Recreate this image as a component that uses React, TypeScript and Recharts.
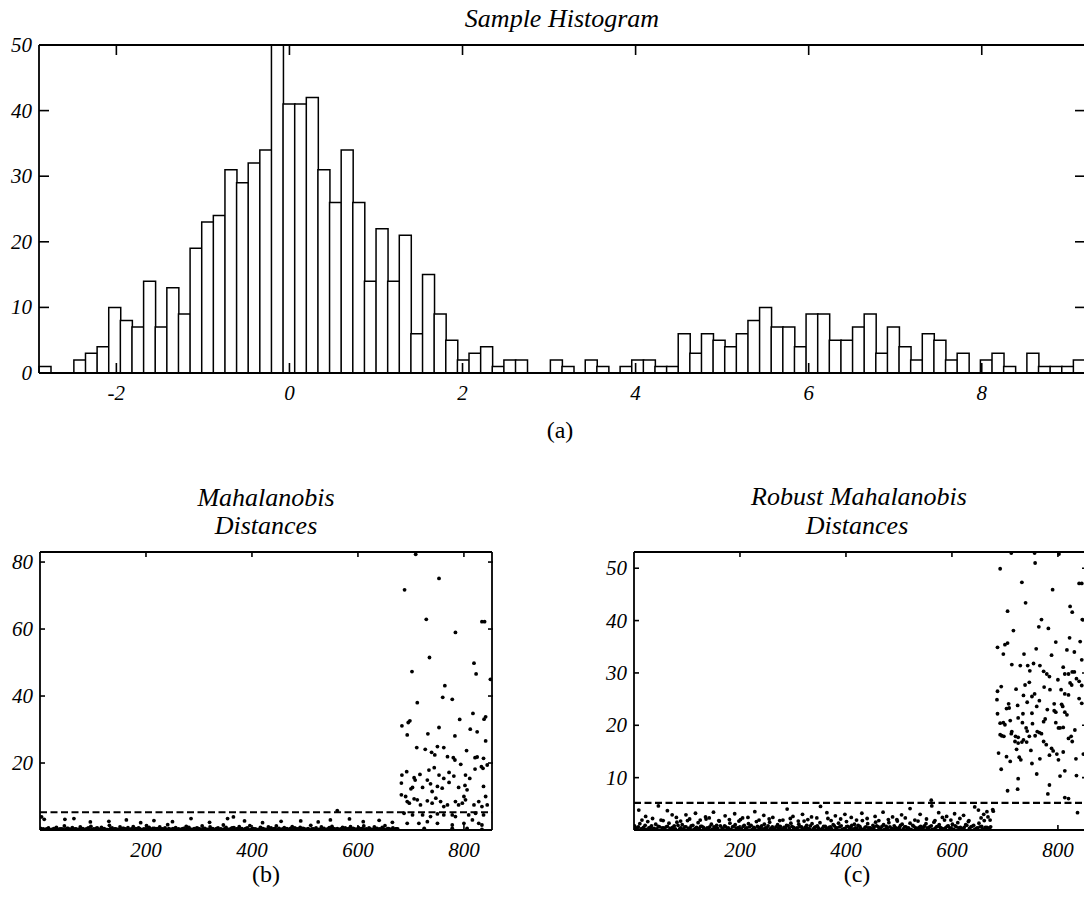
import React from 'react';
import { BarChart, Bar, XAxis, YAxis, ScatterChart, Scatter, ReferenceLine } from 'recharts';

// ---------- Histogram data (panel a) ----------
const histLeftEdge = -2.894;
const histBinWidth = 0.1343;
const histCounts = [
  1, 0, 0, 2, 3, 4, 10, 8, 7, 14,
  7, 13, 9, 19, 23, 24, 31, 29, 32, 34,
  51, 41, 41, 42, 31, 26, 34, 26, 14, 22,
  14, 21, 6, 15, 9, 5, 2, 3, 4, 1,
  2, 2, 0, 0, 2, 1, 0, 2, 1, 0,
  1, 2, 2, 1, 1, 6, 3, 6, 5, 4,
  6, 8, 10, 7, 7, 4, 9, 9, 5, 5,
  7, 9, 3, 7, 4, 2, 6, 5, 2, 3,
  0, 2, 3, 1, 0, 3, 1, 1, 1, 2,
];
const histXTicks = [-2, 0, 2, 4, 6, 8];
const histYTicks = [0, 10, 20, 30, 40, 50];
const histYMax = 50;

// ---------- Distance plots (panels b, c) ----------
const idxMax = 853;
const idxTicks = [200, 400, 600, 800];
const mahaYMax = 83;
const mahaYTicks = [20, 40, 60, 80];
const robustYMax = 53.1;
const robustYTicks = [10, 20, 30, 40, 50];
const mahaCutoff = 5.3;
const robustCutoff = 5.2;

// inlier band, sampled observations: A = 1, 6, 11, ...  B = 3, 8, 13, ...
const bandStartA = 1;
const bandStartB = 3;
const bandIndexStep = 5;
const mahaBandA = [
  0.5, 0.3, 0.2, 0.6, 0.1, 0.4, 0.8, 0.2, 0.3, 1.2, 0.5, 0.2, 0.7, 0.3, 0.1, 0.9, 0.4,
  0.2, 0.6, 1.1, 0.3, 0.5, 0.2, 0.8, 0.4, 0.1, 1.4, 0.6, 0.3, 0.2, 0.9, 0.5, 0.3, 0.7,
  0.2, 1.0, 0.4, 0.6, 0.1, 0.3, 1.3, 0.8, 0.2, 0.5, 0.4, 0.9, 0.3, 0.6, 1.6, 0.2, 0.4,
  0.7, 0.3, 0.1, 0.5, 1.1, 0.8, 0.2, 0.4, 0.6, 0.3, 1.2, 0.5, 0.2, 0.9, 0.4, 0.1,
  0.6, 0.3, 1.5, 0.8, 0.2, 0.5, 0.7, 0.3, 1.0, 0.4, 0.2, 0.6, 1.3, 0.5, 0.3, 0.1, 0.8,
  0.4, 0.2, 0.9, 0.6, 0.3, 1.2, 0.5, 0.1, 0.7, 0.4, 0.2, 1.0, 0.6, 0.3, 0.8, 0.5, 0.2,
  0.4, 1.4, 0.3, 0.6, 0.2, 0.9, 0.5, 0.1, 0.7, 1.1, 0.3, 0.4, 0.2, 0.8, 0.6, 0.3, 1.0,
  0.5, 0.2, 0.7, 0.4, 1.2, 0.3, 0.6, 0.1, 0.9, 0.5, 0.3, 0.8, 1.3, 0.4, 0.2, 0.6, 0.3,
];
const mahaBandB = [
  0.2, 0.1, 0.3, 0.1, 0.2, 0.4, 0.1, 0.3, 0.2, 0.1, 0.5, 0.2, 0.1, 0.3, 0.2, 0.4, 0.1,
  0.3, 0.2, 0.1, 0.2, 0.6, 0.1, 0.3, 0.2, 0.1, 0.4, 0.2, 0.3, 0.1, 0.2, 0.5, 0.1, 0.2,
  0.3, 0.1, 0.2, 0.4, 0.1, 0.2, 0.3, 0.1, 0.5, 0.2, 0.1, 0.3, 0.2, 0.1, 0.4, 0.2, 0.3,
  0.1, 0.2, 0.3, 0.1, 0.4, 0.2, 0.1, 0.2, 0.5, 0.1, 0.3, 0.2, 0.1, 0.3, 0.2, 0.4,
  0.1, 0.2, 0.3, 0.1, 0.2, 0.6, 0.1, 0.3, 0.2, 0.1, 0.4, 0.2, 0.1, 0.3, 0.2, 0.1, 0.5,
  0.2, 0.1, 0.3, 0.2, 0.4, 0.1, 0.2, 0.3, 0.1, 0.2, 0.5, 0.1, 0.3, 0.2, 0.1, 0.4, 0.2,
  0.1, 0.3, 0.2, 0.1, 0.2, 0.4, 0.1, 0.3, 0.2, 0.5, 0.1, 0.2, 0.3, 0.1, 0.2, 0.4, 0.1,
  0.3, 0.2, 0.1, 0.4, 0.2, 0.1, 0.3, 0.2, 0.5, 0.1, 0.2, 0.3, 0.1, 0.4, 0.2, 0.1, 0.3,
];
const mahaMidPoints: [number, number][] = [
  [3, 3.9], [8, 3.2], [47, 3.2], [64, 3.4], [95, 2.4], [130, 2.6], [163, 3.0], [190, 2.2],
  [215, 2.8], [250, 2.5], [285, 3.4], [320, 2.3], [354, 3.4], [365, 3.9], [386, 2.7],
  [420, 2.2], [455, 2.6], [492, 2.7], [525, 2.4], [548, 3.0], [561, 5.8], [584, 3.3],
  [610, 2.5], [640, 2.9], [665, 2.3], [675, 0.3],
];
const mahaOutlierPoints: [number, number][] = [
  [709, 82.3], [753, 75.1], [688, 71.7], [729, 62.9], [834, 62.2], [839, 62.2], [784, 59.0],
  [735, 51.5], [819, 49.8], [702, 47.3], [823, 46.6], [850, 45.0], [764, 43.1], [760, 39.6],
  [778, 39.0], [712, 38.0], [817, 34.8], [841, 33.8], [838, 33.1], [792, 33.0], [698, 32.6],
  [695, 32.1], [683, 31.1], [753, 30.6], [812, 30.1], [825, 29.3], [693, 28.4], [732, 28.7],
  [783, 28.1], [841, 26.6], [711, 24.6], [727, 24.1], [739, 23.2], [750, 24.9], [762, 24.6],
  [805, 23.7], [745, 22.4], [769, 21.9], [780, 21.6], [783, 20.9], [821, 21.6], [825, 21.8],
  [837, 21.4], [794, 19.6], [692, 17.4], [717, 16.6], [734, 17.9], [744, 18.6], [772, 17.2],
  [821, 18.2], [833, 18.9], [836, 18.4], [844, 19.4], [683, 16.4], [706, 15.6], [708, 14.9],
  [731, 14.9], [753, 16.4], [762, 15.4], [781, 16.1], [803, 16.4], [811, 15.4], [682, 14.0],
  [703, 12.7], [700, 12.3], [722, 12.7], [737, 13.8], [740, 11.5], [750, 13.0], [759, 12.5],
  [772, 14.2], [790, 12.7], [802, 13.3], [806, 12.0], [800, 10.0], [837, 13.0], [841, 10.0],
  [682, 10.5], [690, 10.0], [693, 8.5], [697, 8.0], [706, 9.3], [712, 9.0], [718, 7.5],
  [731, 8.7], [740, 8.0], [747, 9.5], [756, 8.5], [762, 7.0], [769, 7.5], [784, 8.5],
  [790, 7.5], [797, 8.0], [803, 9.0], [819, 7.5], [828, 8.5], [834, 7.0], [844, 7.5],
  [687, 5.0], [703, 4.5], [722, 4.5], [737, 4.0], [750, 4.8], [762, 4.5], [778, 4.5],
  [784, 4.0], [809, 4.5], [822, 5.0], [837, 4.5], [693, 2.0], [715, 2.0], [731, 2.5],
  [750, 2.0], [778, 1.5], [800, 2.0], [816, 3.0], [828, 2.0], [834, 1.5], [725, 0.5],
  [778, 0.5], [806, 0.5], [834, 0.2],
];

const robustBandA = [
  0.8, 0.4, 1.2, 0.3, 0.9, 1.6, 0.5, 0.2, 1.1, 0.7, 1.9, 0.4, 0.6, 1.3, 0.3, 0.8, 1.5,
  0.2, 1.0, 0.6, 1.8, 0.4, 0.9, 0.3, 1.4, 0.7, 0.5, 2.1, 0.3, 1.1, 0.6, 0.9, 1.7, 0.4,
  0.8, 0.2, 1.3, 0.6, 1.0, 0.4, 2.0, 0.7, 0.3, 1.2, 0.9, 0.5, 1.6, 0.3, 0.8, 1.1, 0.4,
  1.5, 0.6, 0.2, 1.0, 0.7, 1.9, 0.4, 0.8, 1.3, 0.5, 0.3, 1.1, 0.6, 1.7, 0.9, 0.2,
  1.2, 0.5, 0.8, 1.4, 0.3, 0.7, 2.2, 0.6, 1.0, 0.4, 1.3, 0.8, 0.2, 1.6, 0.5, 0.9, 1.1,
  0.3, 0.7, 1.8, 0.5, 1.2, 0.4, 0.9, 1.5, 0.6, 0.2, 1.0, 0.7, 1.4, 0.3, 0.8, 2.0, 0.5,
  1.1, 0.6, 0.3, 1.3, 0.9, 0.4, 1.7, 0.7, 0.5, 1.2, 0.2, 0.8, 1.5, 0.6, 1.0, 0.3, 1.9,
  0.7, 0.4, 1.1, 0.8, 1.4, 0.5, 0.2, 1.0, 1.6, 0.6, 0.9, 0.3, 1.3, 0.7, 1.8, 0.5, 0.4,
];
const robustBandB = [
  0.3, 0.6, 0.2, 0.5, 0.1, 0.4, 0.8, 0.3, 0.2, 0.6, 0.4, 0.1, 0.7, 0.3, 0.5, 0.2, 0.9,
  0.4, 0.2, 0.6, 0.3, 0.8, 0.1, 0.5, 0.3, 0.7, 0.2, 0.4, 0.6, 0.1, 0.5, 0.3, 0.8, 0.2,
  0.6, 0.4, 0.1, 0.7, 0.3, 0.5, 0.2, 0.9, 0.4, 0.6, 0.1, 0.3, 0.7, 0.5, 0.2, 0.4, 0.8,
  0.3, 0.1, 0.6, 0.4, 0.2, 0.5, 0.9, 0.3, 0.7, 0.1, 0.4, 0.6, 0.2, 0.5, 0.3, 0.8,
  0.2, 0.6, 0.4, 0.1, 0.7, 0.3, 0.5, 0.2, 0.8, 0.4, 0.6, 0.1, 0.3, 0.7, 0.5, 0.2, 0.4,
  0.9, 0.3, 0.1, 0.6, 0.4, 0.2, 0.5, 0.8, 0.3, 0.7, 0.1, 0.4, 0.6, 0.2, 0.5, 0.3, 0.9,
  0.2, 0.6, 0.4, 0.1, 0.7, 0.3, 0.5, 0.2, 0.8, 0.4, 0.6, 0.1, 0.3, 0.7, 0.5, 0.2, 0.4,
  0.8, 0.3, 0.1, 0.6, 0.4, 0.2, 0.5, 0.9, 0.3, 0.7, 0.1, 0.4, 0.6, 0.2, 0.5, 0.3, 0.6,
];
const robustMidPoints: [number, number][] = [
  [9, 3.8], [22, 2.6], [46, 4.6], [63, 3.7], [80, 2.4], [98, 2.9], [116, 3.2], [135, 2.5],
  [150, 3.4], [172, 2.7], [190, 3.1], [205, 2.3], [228, 3.5], [245, 2.8], [262, 2.4],
  [289, 4.0], [300, 2.6], [318, 3.0], [335, 2.5], [352, 4.5], [364, 3.3], [380, 2.7],
  [398, 3.0], [410, 2.4], [430, 3.2], [455, 2.6], [470, 3.4], [488, 2.5], [505, 2.9],
  [521, 4.1], [540, 3.0], [561, 5.7], [562, 4.6], [575, 3.3], [590, 2.6], [605, 3.1],
  [622, 2.8], [643, 4.4], [650, 3.8], [660, 3.0], [666, 3.5], [668, 2.5], [677, 3.9],
  [678, 3.6],
  [15, 1.9], [35, 2.2], [55, 1.8], [72, 2.9], [88, 1.7], [105, 2.1], [125, 1.9], [142, 2.3],
  [160, 1.8], [180, 2.0], [198, 1.7], [215, 2.4], [236, 1.9], [255, 2.1], [275, 1.8],
  [295, 2.2], [310, 1.7], [328, 2.0], [345, 2.3], [372, 1.8], [390, 2.1], [420, 1.9],
  [440, 2.2], [462, 1.8], [480, 2.0], [497, 1.7], [512, 2.3], [530, 1.9], [552, 2.1],
  [568, 1.8], [582, 2.4], [598, 1.9], [615, 2.2], [632, 1.8], [655, 2.3], [672, 1.9],
];
const robustOutlierPoints: [number, number][] = [
  [712, 52.9], [756, 52.9], [802, 52.7], [757, 51.0], [691, 49.9], [732, 47.3], [840, 47.1],
  [845, 47.1], [790, 45.9], [739, 43.4], [705, 41.8], [823, 42.7], [827, 41.6], [769, 40.2],
  [846, 40.2], [764, 38.8], [782, 38.5], [716, 38.1], [822, 36.7], [796, 35.9], [842, 36.0],
  [700, 35.4], [705, 35.7], [686, 34.9], [759, 34.6], [817, 34.4], [831, 34.0], [697, 33.6],
  [736, 33.6], [788, 33.4], [845, 32.5], [713, 31.6], [729, 31.4], [743, 31.4], [754, 31.8],
  [766, 31.4], [810, 31.1], [747, 30.4], [773, 30.3], [779, 29.8], [784, 29.3], [820, 29.8],
  [827, 30.2], [831, 30.2], [800, 28.7], [813, 29.8], [835, 28.9], [840, 28.4], [823, 28.1],
  [826, 27.7], [845, 27.6], [693, 27.4], [686, 26.5], [738, 27.7], [746, 28.2], [721, 26.9],
  [774, 27.3], [785, 26.8], [806, 26.8], [813, 26.0], [820, 25.8], [840, 25.1], [735, 25.7],
  [756, 26.0], [751, 25.5], [685, 24.9], [742, 24.4], [765, 24.7], [793, 24.1], [807, 24.0],
  [809, 23.6], [845, 24.2], [707, 24.1], [703, 23.2], [708, 23.3], [724, 23.8], [760, 23.6],
  [780, 23.0], [793, 22.8], [796, 22.5], [813, 22.5], [817, 22.0], [686, 22.2], [734, 22.2],
  [751, 22.3], [776, 21.2], [773, 20.7], [691, 20.4], [697, 20.5], [700, 20.1], [710, 20.9],
  [725, 21.4], [733, 20.5], [740, 19.5], [742, 18.9], [752, 20.3], [761, 18.8], [765, 18.6],
  [769, 18.4], [796, 20.5], [801, 19.5], [804, 19.5], [810, 19.6], [832, 19.1], [691, 18.2],
  [694, 18.0], [698, 17.9], [713, 18.8], [712, 18.4], [720, 17.9], [725, 17.7], [735, 17.2],
  [746, 17.9], [757, 18.0], [825, 17.9], [820, 17.5], [827, 16.9], [719, 16.9], [725, 16.6],
  [732, 16.8], [741, 16.8], [773, 16.9], [778, 16.3], [788, 15.6], [791, 15.1], [784, 14.3],
  [688, 14.7], [722, 15.4], [749, 15.2], [798, 14.5], [810, 14.9], [703, 14.0], [710, 13.1],
  [727, 13.9], [730, 13.4], [766, 13.6], [751, 12.7], [801, 13.4], [834, 13.6], [848, 14.5],
  [693, 11.6], [813, 11.3], [760, 10.7], [804, 10.3], [835, 10.4], [725, 9.8], [705, 7.5],
  [724, 7.8], [784, 8.6], [781, 6.9], [813, 6.2], [820, 6.0], [837, 3.3],
];

// ---------- build data for the library ----------
const histData = histCounts.map((count, k) => ({
  bin: (histLeftEdge + (k + 0.5) * histBinWidth).toFixed(3),
  center: histLeftEdge + (k + 0.5) * histBinWidth,
  count,
}));
const histXMax = histLeftEdge + histCounts.length * histBinWidth;

const toPoints = (
  bandA: number[],
  bandB: number[],
  mid: [number, number][],
  out: [number, number][],
) => [
  ...bandA.map((v, i) => ({ x: bandStartA + i * bandIndexStep, y: v })),
  ...bandB.map((v, i) => ({ x: bandStartB + i * bandIndexStep, y: v })),
  ...mid.map(([x, y]) => ({ x, y })),
  ...out.map(([x, y]) => ({ x, y })),
];
const mahaData = toPoints(mahaBandA, mahaBandB, mahaMidPoints, mahaOutlierPoints);
const robustData = toPoints(robustBandA, robustBandB, robustMidPoints, robustOutlierPoints);

// ---------- styling helpers ----------
const SERIF = "'Liberation Serif', 'Times New Roman', Times, serif";
const AXIS = { stroke: '#000', strokeWidth: 1.8 };
const TICK_FS = 21;

type Side = 'bottom' | 'top' | 'left' | 'right';
// pos = pixel position of the axis line inside the chart svg
const tickRenderer = (side: Side, pos: number, len: number, label: boolean) => (props: any) => {
  const { payload } = props;
  const horizontal = side === 'bottom' || side === 'top';
  const c = horizontal ? props.x : props.y;
  let x1 = 0, y1 = 0, x2 = 0, y2 = 0;
  if (side === 'bottom') { x1 = x2 = c; y1 = pos; y2 = pos - len; }
  if (side === 'top') { x1 = x2 = c; y1 = pos; y2 = pos + len; }
  if (side === 'left') { y1 = y2 = c; x1 = pos; x2 = pos + len; }
  if (side === 'right') { y1 = y2 = c; x1 = pos; x2 = pos - len; }
  let text = null;
  if (label && side === 'bottom') {
    text = (
      <text x={c} y={pos + 27} textAnchor="middle" fontFamily={SERIF} fontStyle="italic" fontSize={TICK_FS} fill="#000">
        {String(payload.value)}
      </text>
    );
  }
  if (label && side === 'left') {
    text = (
      <text x={pos - 7} y={c + 7} textAnchor="end" fontFamily={SERIF} fontStyle="italic" fontSize={TICK_FS} fill="#000">
        {String(payload.value)}
      </text>
    );
  }
  return (
    <g>
      <line x1={x1} y1={y1} x2={x2} y2={y2} stroke="#000" strokeWidth={1.6} />
      {text}
    </g>
  );
};

const TextLabel = ({ cx, baseline, size, italic, children }: any) => (
  <div
    style={{
      position: 'absolute',
      left: cx - 300,
      width: 600,
      top: baseline - 0.8375 * size,
      textAlign: 'center',
      fontFamily: SERIF,
      fontStyle: italic ? 'italic' : 'normal',
      fontSize: size,
      lineHeight: `${size}px`,
      color: '#000',
      whiteSpace: 'nowrap',
    }}
  >
    {children}
  </div>
);

const Dot = (p: any) => <circle cx={p.cx} cy={p.cy} r={1.9} fill="#000" />;

// scatter geometry inside its svg
const SC_W = 497;
const SC_H = 336;
const SC_TOP = 12;
const SC_LEFT = 40;
const SC_XAXIS_H = 46;
const SC_RIGHT = SC_W - 4;
const SC_BOTTOM = SC_H - SC_XAXIS_H;

const DistancePlot = ({ data, yMax, yTicks, cutoff }: any) => (
  <ScatterChart width={SC_W} height={SC_H} margin={{ top: SC_TOP - 1, right: 4, bottom: 0, left: 0 }}>
    <XAxis
      type="number"
      dataKey="x"
      domain={[0, idxMax]}
      ticks={idxTicks}
      interval={0}
      allowDataOverflow
      height={SC_XAXIS_H}
      tickSize={0}
      tickMargin={0}
      tickLine={false}
      axisLine={AXIS}
      tick={tickRenderer('bottom', SC_BOTTOM, 5, true)}
    />
    <XAxis
      xAxisId="top"
      orientation="top"
      type="number"
      dataKey="x"
      domain={[0, idxMax]}
      ticks={idxTicks}
      interval={0}
      allowDataOverflow
      height={1}
      tickSize={0}
      tickMargin={0}
      tickLine={false}
      axisLine={AXIS}
      tick={tickRenderer('top', SC_TOP, 5, false)}
    />
    <YAxis
      type="number"
      dataKey="y"
      domain={[0, yMax]}
      ticks={yTicks}
      interval={0}
      allowDataOverflow
      width={SC_LEFT}
      tickSize={0}
      tickMargin={0}
      tickLine={false}
      axisLine={AXIS}
      tick={tickRenderer('left', SC_LEFT, 5, true)}
    />
    <YAxis
      yAxisId="right"
      orientation="right"
      type="number"
      dataKey="y"
      domain={[0, yMax]}
      ticks={yTicks}
      interval={0}
      allowDataOverflow
      width={1}
      tickSize={0}
      tickMargin={0}
      tickLine={false}
      axisLine={AXIS}
      tick={tickRenderer('right', SC_RIGHT, 5, false)}
    />
    <ReferenceLine y={cutoff} stroke="#000" strokeWidth={2.2} strokeDasharray="7 3.5" />
    <Scatter data={data} shape={Dot} isAnimationActive={false} />
  </ScatterChart>
);

// histogram geometry inside its svg
const H_W = 1090;
const H_H = 412;
const H_TOP = 45;
const H_LEFT = 39;
const H_XAXIS_H = 39;
const H_RIGHT = H_W - 5;
const H_BOTTOM = H_H - H_XAXIS_H;

export default function App() {
  return (
    <div
      style={{
        position: 'absolute',
        left: 0,
        top: 0,
        width: 1084,
        height: 900,
        overflow: 'hidden',
        background: '#fff',
      }}
    >
      <TextLabel cx={562} baseline={28} size={26} italic>
        Sample Histogram
      </TextLabel>
      <div style={{ position: 'absolute', left: 0, top: 0 }}>
        <BarChart
          width={H_W}
          height={H_H}
          data={histData}
          margin={{ top: H_TOP - 1, right: 4, bottom: 0, left: 0 }}
          barCategoryGap={0}
          barGap={0}
        >
          <XAxis
            xAxisId="num"
            type="number"
            dataKey="center"
            domain={[histLeftEdge, histXMax]}
            ticks={histXTicks}
            interval={0}
            allowDataOverflow
            height={H_XAXIS_H}
            tickSize={0}
            tickMargin={0}
            tickLine={false}
            axisLine={AXIS}
            tick={tickRenderer('bottom', H_BOTTOM, 10, true)}
          />
          <XAxis xAxisId="cat" dataKey="bin" type="category" hide height={0} />
          <XAxis
            xAxisId="top"
            orientation="top"
            type="number"
            dataKey="center"
            domain={[histLeftEdge, histXMax]}
            ticks={histXTicks}
            interval={0}
            allowDataOverflow
            height={1}
            tickSize={0}
            tickMargin={0}
            tickLine={false}
            axisLine={AXIS}
            tick={tickRenderer('top', H_TOP, 10, false)}
          />
          <YAxis
            type="number"
            dataKey="count"
            domain={[0, histYMax]}
            ticks={histYTicks}
            interval={0}
            allowDataOverflow
            width={H_LEFT}
            tickSize={0}
            tickMargin={0}
            tickLine={false}
            axisLine={AXIS}
            tick={tickRenderer('left', H_LEFT, 10, true)}
          />
          <YAxis
            yAxisId="right"
            orientation="right"
            type="number"
            dataKey="count"
            domain={[0, histYMax]}
            ticks={histYTicks}
            interval={0}
            allowDataOverflow
            width={1}
            tickSize={0}
            tickMargin={0}
            tickLine={false}
            axisLine={AXIS}
            tick={tickRenderer('right', H_RIGHT, 10, false)}
          />
          <Bar
            xAxisId="cat"
            dataKey="count"
            fill="#fff"
            stroke="#000"
            strokeWidth={1.5}
            isAnimationActive={false}
          />
        </BarChart>
      </div>
      <TextLabel cx={560} baseline={438} size={24}>
        (a)
      </TextLabel>

      <TextLabel cx={266} baseline={507} size={26} italic>
        Mahalanobis
      </TextLabel>
      <TextLabel cx={266} baseline={535} size={26} italic>
        Distances
      </TextLabel>
      <div style={{ position: 'absolute', left: 0, top: 540 }}>
        <DistancePlot data={mahaData} yMax={mahaYMax} yTicks={mahaYTicks} cutoff={mahaCutoff} />
      </div>
      <TextLabel cx={266} baseline={882} size={24}>
        (b)
      </TextLabel>

      <TextLabel cx={859} baseline={506} size={26} italic>
        Robust Mahalanobis
      </TextLabel>
      <TextLabel cx={857} baseline={535} size={26} italic>
        Distances
      </TextLabel>
      <div style={{ position: 'absolute', left: 594, top: 540 }}>
        <DistancePlot data={robustData} yMax={robustYMax} yTicks={robustYTicks} cutoff={robustCutoff} />
      </div>
      <TextLabel cx={857} baseline={882} size={24}>
        (c)
      </TextLabel>
    </div>
  );
}
